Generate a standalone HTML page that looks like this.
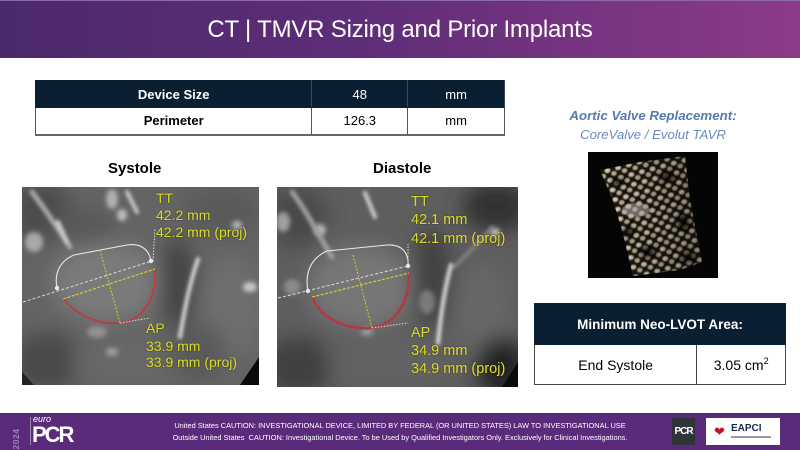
<!DOCTYPE html>
<html><head><meta charset="utf-8">
<style>
*{margin:0;padding:0;box-sizing:border-box}
html,body{width:800px;height:450px;overflow:hidden;background:#fff;font-family:"Liberation Sans",sans-serif;position:relative}
.hdr{position:absolute;left:0;top:0;width:800px;height:58px;background:linear-gradient(90deg,#4a2a6b 0%,#5f2d78 45%,#8c3b87 100%);border-top:1px solid #8d6aa6}
.title{position:absolute;left:0;top:14px;width:800px;text-align:center;color:#fff;font-size:24px;line-height:30px;white-space:nowrap;letter-spacing:-0.2px}
table{border-collapse:collapse;position:absolute}
.t1{left:35px;top:80px;width:470px}
.t1 td{font-size:13px;text-align:center;border:1px solid #555;height:27px;padding:0}
.t1 tr.h td{background:#0b1f33;color:#fff;border-color:#0b1f33;border-right-color:#3a4a5c}
.t1 tr.r td{background:#fff;color:#000;border-bottom:2px solid #666}
.lbl{position:absolute;font-weight:bold;font-size:15px;color:#000;white-space:nowrap}
.ct{position:absolute}
.av1{position:absolute;left:553px;top:108px;width:200px;text-align:center;color:#5879b2;font-size:13.3px;font-weight:bold;font-style:italic;white-space:nowrap}
.av2{position:absolute;left:553px;top:127px;width:200px;text-align:center;color:#6a8abd;font-size:13.2px;font-style:italic;white-space:nowrap}
.t2{left:534px;top:303px;width:252px}
.t2 td{border:1px solid #333;text-align:center;padding:0}
.t2 tr.h td{background:#0b1f33;color:#fff;font-weight:bold;font-size:13.5px;height:41px;border-color:#0b1f33}
.t2 tr.r td{background:#fff;color:#000;font-size:14px;height:40px;border-color:#444}
.ftr{position:absolute;left:0;top:413px;width:800px;height:37px;background:#5a2b7b}
.fl{position:absolute;left:0;width:800px;text-align:center;color:#fff;font-size:7.4px;white-space:nowrap}
</style></head><body>
<div class="hdr"><div class="title">CT | TMVR Sizing and Prior Implants</div></div>

<table class="t1">
<tr class="h"><td style="width:277px;font-weight:bold">Device Size</td><td style="width:96px">48</td><td style="width:97px">mm</td></tr>
<tr class="r"><td style="font-weight:bold;height:26px">Perimeter</td><td>126.3</td><td>mm</td></tr>
</table>

<div class="lbl" style="left:108px;top:160px">Systole</div>
<div class="lbl" style="left:373px;top:160px">Diastole</div>

<!-- Systole CT -->
<svg class="ct" style="left:22px;top:187px" width="237" height="198" viewBox="0 0 237 198">
<defs>
<filter id="s10" x="-50%" y="-50%" width="200%" height="200%"><feGaussianBlur stdDeviation="10"/></filter>
<filter id="s3" x="-50%" y="-50%" width="200%" height="200%"><feGaussianBlur stdDeviation="2.5"/></filter>
<filter id="s1" x="-50%" y="-50%" width="200%" height="200%"><feGaussianBlur stdDeviation="1.8"/></filter>
<filter id="tsh"><feDropShadow dx="0" dy="0" stdDeviation="0.6" flood-color="#000" flood-opacity="0.9"/></filter>
</defs>
<rect width="237" height="198" fill="#646464"/>
<g filter="url(#s10)">
<ellipse cx="85" cy="95" rx="55" ry="40" fill="#7a7a7a"/>
<ellipse cx="20" cy="25" rx="30" ry="30" fill="#4c4c4c"/>
<ellipse cx="60" cy="40" rx="35" ry="18" fill="#585858"/>
<ellipse cx="155" cy="95" rx="18" ry="45" fill="#454545"/>
<ellipse cx="210" cy="120" rx="30" ry="50" fill="#6e6e6e"/>
<ellipse cx="200" cy="25" rx="40" ry="25" fill="#5a5a5a"/>
<ellipse cx="25" cy="175" rx="35" ry="30" fill="#4a4a4a"/>
<ellipse cx="110" cy="175" rx="60" ry="25" fill="#686868"/>
<ellipse cx="175" cy="165" rx="30" ry="30" fill="#5a5a5a"/>
</g>
<g filter="url(#s3)">
<ellipse cx="12" cy="55" rx="9" ry="10" fill="#a8a8a8"/>
<ellipse cx="90" cy="12" rx="6" ry="10" fill="#b0b0b0"/>
<ellipse cx="100" cy="28" rx="5" ry="6" fill="#c0c0c0"/>
<ellipse cx="228" cy="100" rx="7" ry="5" fill="#c8c8c8"/>
<ellipse cx="215" cy="38" rx="5" ry="4" fill="#b8b8b8"/>
<ellipse cx="75" cy="145" rx="10" ry="6" fill="#909090"/>
<ellipse cx="90" cy="165" rx="6" ry="4" fill="#a0a0a0"/>
</g>
<g filter="url(#s1)" fill="none" stroke-linecap="round">
<path d="M10,5 C25,25 35,40 48,60" stroke="#acacac" stroke-width="5"/>
<path d="M36,35 L45,55" stroke="#d0d0d0" stroke-width="4"/>
<path d="M176,72 C168,95 163,120 158,150" stroke="#dcdcdc" stroke-width="4"/>
<path d="M105,5 L115,25" stroke="#cccccc" stroke-width="4"/>
</g>
<polygon points="218,198 237,198 237,170" fill="#0a0a0a"/>
<polygon points="0,198 12,198 0,185" fill="#222"/>
<path d="M35,101 C32,86 38,74 52,68 L105,58 C118,56 127,62 129,74" fill="none" stroke="#e8e8e8" stroke-width="1.1"/>
<line x1="1" y1="115" x2="130" y2="74" stroke="#ddd" stroke-width="1" stroke-dasharray="3,2"/>
<line x1="131" y1="74" x2="133" y2="42" stroke="#ddd" stroke-width="1" stroke-dasharray="1.5,1.5"/>
<path d="M41,111 C55,130 80,138 98,136 C118,134 135,115 133,82" fill="none" stroke="#c8343e" stroke-width="1.6"/>
<line x1="98" y1="136" x2="128" y2="131" stroke="#ddd" stroke-width="1" stroke-dasharray="1.5,1.5"/>
<line x1="41" y1="112" x2="133" y2="82" stroke="#d8d82c" stroke-width="1.1" stroke-dasharray="3,1.5"/>
<line x1="78" y1="63" x2="98" y2="136" stroke="#cfcf2c" stroke-width="1" stroke-dasharray="2,1.5"/>
<circle cx="35" cy="101" r="2.2" fill="#e8e8f0"/>
<circle cx="129" cy="74" r="2.2" fill="#e8e8f0"/>
<g font-family="Liberation Sans, sans-serif" font-size="14" fill="#d9d92e" filter="url(#tsh)">
<text x="134" y="16">TT</text>
<text x="134" y="33">42.2 mm</text>
<text x="134" y="50">42.2 mm (proj)</text>
<text x="124" y="146">AP</text>
<text x="124" y="164">33.9 mm</text>
<text x="124" y="180">33.9 mm (proj)</text>
</g>
</svg>

<!-- Diastole CT -->
<svg class="ct" style="left:277px;top:187px" width="241" height="200" viewBox="0 0 241 200">
<defs>
<filter id="d10" x="-50%" y="-50%" width="200%" height="200%"><feGaussianBlur stdDeviation="10"/></filter>
<filter id="d3" x="-50%" y="-50%" width="200%" height="200%"><feGaussianBlur stdDeviation="2.5"/></filter>
<filter id="d1" x="-50%" y="-50%" width="200%" height="200%"><feGaussianBlur stdDeviation="1.8"/></filter>
<filter id="tsh2"><feDropShadow dx="0" dy="0" stdDeviation="0.6" flood-color="#000" flood-opacity="0.9"/></filter>
</defs>
<rect width="241" height="200" fill="#5e5e5e"/>
<g filter="url(#d10)">
<ellipse cx="85" cy="100" rx="55" ry="42" fill="#767676"/>
<ellipse cx="20" cy="30" rx="30" ry="30" fill="#4a4a4a"/>
<ellipse cx="155" cy="90" rx="20" ry="50" fill="#434343"/>
<ellipse cx="205" cy="120" rx="30" ry="45" fill="#666"/>
<ellipse cx="220" cy="20" rx="35" ry="25" fill="#333"/>
<ellipse cx="20" cy="180" rx="35" ry="30" fill="#404040"/>
<ellipse cx="110" cy="175" rx="60" ry="25" fill="#626262"/>
<ellipse cx="225" cy="180" rx="25" ry="30" fill="#202020"/>
</g>
<g filter="url(#d3)">
<ellipse cx="6" cy="35" rx="7" ry="10" fill="#a0a0a0"/>
<ellipse cx="43" cy="43" rx="6" ry="6" fill="#b5b5b5"/>
<ellipse cx="218" cy="45" rx="5" ry="4" fill="#c0c0c0"/>
<ellipse cx="150" cy="115" rx="8" ry="12" fill="#7a7a7a"/>
<ellipse cx="15" cy="100" rx="8" ry="8" fill="#8a8a8a"/>
<ellipse cx="90" cy="145" rx="6" ry="4" fill="#9a9a9a"/>
</g>
<g filter="url(#d1)" fill="none" stroke-linecap="round">
<path d="M15,5 C30,25 40,45 55,70" stroke="#a0a0a0" stroke-width="5"/>
<path d="M88,6 L98,30" stroke="#d4d4d4" stroke-width="4"/>
<path d="M174,78 C168,100 164,125 161,156" stroke="#e0e0e0" stroke-width="4"/>
<path d="M215,40 C200,60 185,70 178,80" stroke="#8a8a8a" stroke-width="3"/>
</g>
<polygon points="225,200 241,200 241,175" fill="#0a0a0a"/>
<path d="M31,104 C28,88 32,72 50,64 L110,58 C125,57 132,66 131,79" fill="none" stroke="#e8e8e8" stroke-width="1.1"/>
<line x1="1" y1="111" x2="131" y2="79" stroke="#ddd" stroke-width="1" stroke-dasharray="3,2"/>
<line x1="131" y1="79" x2="131" y2="57" stroke="#ddd" stroke-width="1" stroke-dasharray="1.5,1.5"/>
<path d="M35,110 C45,135 75,143 95,141 C115,139 133,118 132,86" fill="none" stroke="#b43846" stroke-width="2.6"/>
<line x1="95" y1="141" x2="131" y2="136" stroke="#ddd" stroke-width="1" stroke-dasharray="1.5,1.5"/>
<line x1="35" y1="110" x2="132" y2="86" stroke="#d8d82c" stroke-width="1.1" stroke-dasharray="3,1.5"/>
<line x1="76" y1="68" x2="95" y2="141" stroke="#cfcf2c" stroke-width="1" stroke-dasharray="2,1.5"/>
<circle cx="31" cy="104" r="2.2" fill="#e8e8f0"/>
<circle cx="131" cy="79" r="2.2" fill="#e8e8f0"/>
<g font-family="Liberation Sans, sans-serif" font-size="14.5" fill="#d9d92e" filter="url(#tsh2)">
<text x="134" y="19">TT</text>
<text x="134" y="37">42.1 mm</text>
<text x="134" y="56">42.1 mm (proj)</text>
<text x="134" y="150">AP</text>
<text x="134" y="168">34.9 mm</text>
<text x="134" y="186">34.9 mm (proj)</text>
</g>
</svg>

<div class="av1">Aortic Valve Replacement:</div>
<div class="av2">CoreValve / Evolut TAVR</div>

<!-- valve image -->
<svg class="ct" style="left:588px;top:152px" width="130" height="126" viewBox="0 0 130 126">
<defs>
<pattern id="mesh" width="11" height="10" patternUnits="userSpaceOnUse" patternTransform="rotate(-15)">
<rect width="11" height="10" fill="#1a140e"/>
<ellipse cx="3" cy="3" rx="2.8" ry="2.3" fill="#dccfb2"/>
<ellipse cx="8.5" cy="7.5" rx="2.6" ry="2.2" fill="#cdbf9f"/>
<ellipse cx="2.6" cy="2.5" rx="1.3" ry="1" fill="#f3ecdc"/>
</pattern>
<filter id="vb"><feGaussianBlur stdDeviation="0.5"/></filter>
<filter id="vb4" x="-50%" y="-50%" width="200%" height="200%"><feGaussianBlur stdDeviation="3"/></filter>
<linearGradient id="vg" x1="0" y1="0" x2="1" y2="0">
<stop offset="0" stop-color="#000" stop-opacity="0"/>
<stop offset="1" stop-color="#000" stop-opacity="0.45"/>
</linearGradient>
<clipPath id="vc"><polygon points="12,18 52,10 97,4 102,48 114,110 92,118 45,124 34,78 24,46"/></clipPath>
</defs>
<rect width="130" height="126" fill="#050505"/>
<g clip-path="url(#vc)">
<rect width="130" height="126" fill="url(#mesh)" filter="url(#vb)"/>
<g fill="#050505" filter="url(#vb4)" opacity="0.85">
<ellipse cx="30" cy="30" rx="6" ry="4"/>
<ellipse cx="80" cy="25" rx="7" ry="5"/>
<ellipse cx="95" cy="70" rx="6" ry="8"/>
<ellipse cx="60" cy="100" rx="8" ry="5"/>
<ellipse cx="40" cy="80" rx="5" ry="6"/>
<ellipse cx="100" cy="105" rx="7" ry="5"/>
</g>
<ellipse cx="48" cy="58" rx="14" ry="7" fill="#d8d4cc" opacity="0.55" filter="url(#vb)"/>
<rect width="130" height="126" fill="url(#vg)"/>
</g>
</svg>

<table class="t2">
<tr class="h"><td colspan="2">Minimum Neo-LVOT Area:</td></tr>
<tr class="r"><td style="width:163px">End Systole</td><td style="width:89px">3.05 cm<sup style="font-size:9px;vertical-align:6px">2</sup></td></tr>
</table>

<div class="ftr">
<div style="position:absolute;left:4px;top:21px;transform:rotate(-90deg);transform-origin:center;color:#9c86b6;font-weight:bold;font-size:8.5px;width:24px;text-align:center;letter-spacing:0.5px">2024</div>
<div style="position:absolute;left:30px;top:4px;width:1px;height:28px;background:#9c86b6"></div>
<div style="position:absolute;left:33px;top:1px;color:#fff;font-size:9px;font-style:italic">euro</div>
<div style="position:absolute;left:32px;top:9px;color:#fff;font-size:22px;font-weight:bold;letter-spacing:-2px;line-height:26px">PCR</div>
<div class="fl" style="top:8px">United States CAUTION: INVESTIGATIONAL DEVICE, LIMITED BY FEDERAL (OR UNITED STATES) LAW TO INVESTIGATIONAL USE</div>
<div class="fl" style="top:20px">Outside United States&nbsp; CAUTION: Investigational Device. To be Used by Qualified Investigators Only. Exclusively for Clinical Investigations.</div>
<div style="position:absolute;left:672px;top:5px;width:23px;height:27px;background:#2f3438;color:#fff;font-weight:bold;font-size:10px;text-align:center;line-height:27px;letter-spacing:-1px">PCR</div>
<div style="position:absolute;left:706px;top:5px;width:74px;height:27px;background:#fff">
<div style="position:absolute;left:8px;top:7px;color:#c8102e;font-size:13px;line-height:13px">&#10084;</div>
<div style="position:absolute;left:25px;top:5px;color:#1a2a4a;font-weight:bold;font-size:10px;line-height:12px">EAPCI</div>
<div style="position:absolute;left:25px;top:18px;width:40px;height:2px;background:#999"></div>
</div>
</div>
</body></html>
